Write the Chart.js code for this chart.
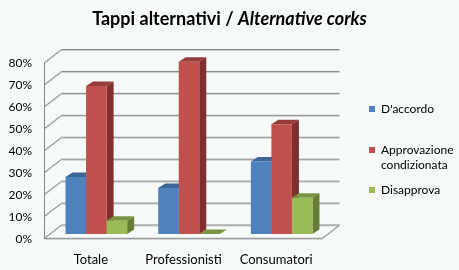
<!DOCTYPE html>
<html>
<head>
<meta charset="utf-8">
<script src="https://cdn.jsdelivr.net/npm/chart.js@4"></script>
<style>
  body { margin: 0; background: #f6faf8; }
  #wrap { width: 459px; height: 270px; }
</style>
</head>
<body>
<div id="wrap"><canvas id="myChart" width="459" height="270"></canvas></div>
<script>
// data
var categories = ['Totale', 'Professionisti', 'Consumatori'];
var seriesNames = ["D'accordo", 'Approvazione condizionata', 'Disapprova'];
var daccordo = [26, 21, 33];
var approvazione = [67.5, 78.5, 50];
var disapprova = [6, 0, 16.5];
var yTickValues = [0, 10, 20, 30, 40, 50, 60, 70, 80];

var frontColors = ['#4f81bd', '#c0504d', '#9bbb59'];
var topColors = ['#3d6596', '#963c3a', '#7a9444'];
var sideColors = ['#36598a', '#7f302e', '#667d34'];

var FONT = 'Lato';

// offsets from the bar plane to the front / back planes of the 3d box
var front = { dx: -5.8, dy: 4.3 };
var back = { dx: 11.5, dy: -9 };
var depth = { dx: 7, dy: -4.5 };

function gridLine(ctx, x1, y1, x2, y2) {
  ctx.strokeStyle = '#c9cbca';
  ctx.beginPath(); ctx.moveTo(x1, y1 + 1); ctx.lineTo(x2, y2 + 1); ctx.stroke();
  ctx.strokeStyle = '#878787';
  ctx.beginPath(); ctx.moveTo(x1, y1); ctx.lineTo(x2, y2); ctx.stroke();
}

var box3d = {
  id: 'box3d',
  beforeDatasetsDraw: function (chart) {
    var ctx = chart.ctx;
    var a = chart.chartArea;
    var ys = chart.scales.y;
    ctx.save();
    ctx.lineWidth = 1;
    var fl = a.left + front.dx, fr = a.right + front.dx;
    var bl = a.left + back.dx, br = a.right + back.dx;
    yTickValues.forEach(function (v) {
      var y = ys.getPixelForValue(v);
      gridLine(ctx, fl, y + front.dy, bl, y + back.dy);
      gridLine(ctx, bl, y + back.dy, br, y + back.dy);
    });
    var y0 = ys.getPixelForValue(0), y80 = ys.getPixelForValue(80);
    // floor front edge and right edge
    gridLine(ctx, fl, y0 + front.dy, fr, y0 + front.dy);
    gridLine(ctx, fr, y0 + front.dy, br, y0 + back.dy);
    // left wall front edge
    ctx.strokeStyle = '#878787';
    ctx.beginPath();
    ctx.moveTo(Math.round(fl) + 0.5, y0 + front.dy);
    ctx.lineTo(Math.round(fl) + 0.5, y80 + front.dy);
    ctx.stroke();

    // tops and sides of the bars, fronts are drawn by chart.js afterwards
    chart.data.datasets.forEach(function (ds, i) {
      chart.getDatasetMeta(i).data.forEach(function (bar) {
        var l = bar.x - bar.width / 2, r = bar.x + bar.width / 2;
        var t = bar.y, b = bar.base;
        ctx.fillStyle = sideColors[i];
        ctx.beginPath();
        ctx.moveTo(r, t); ctx.lineTo(r + depth.dx, t + depth.dy);
        ctx.lineTo(r + depth.dx, b + depth.dy); ctx.lineTo(r, b);
        ctx.closePath(); ctx.fill();
        ctx.fillStyle = topColors[i];
        ctx.beginPath();
        ctx.moveTo(l, t); ctx.lineTo(r, t);
        ctx.lineTo(r + depth.dx, t + depth.dy); ctx.lineTo(l + depth.dx, t + depth.dy);
        ctx.closePath(); ctx.fill();
      });
    });
    ctx.restore();
  },
  afterDraw: function (chart) {
    var ctx = chart.ctx;
    ctx.save();
    // title, upright part and italic part
    var t1 = 'Tappi alternativi / ', t2 = 'Alternative corks';
    var f1 = 'bold 18px ' + FONT, f2 = 'italic bold 18px ' + FONT;
    ctx.font = f1; var w1 = ctx.measureText(t1).width;
    ctx.font = f2; var w2 = ctx.measureText(t2).width;
    var x = 229.5 - (w1 + w2) / 2;
    ctx.fillStyle = '#000';
    ctx.textBaseline = 'middle';
    ctx.font = f1; ctx.fillText(t1, x, 19);
    ctx.font = f2; ctx.fillText(t2, x + w1, 19);

    // legend
    ctx.font = '12px ' + FONT;
    var items = [
      { lines: [seriesNames[0]], y: 109 },
      { lines: ['Approvazione', 'condizionata'], y: 150 },
      { lines: [seriesNames[2]], y: 190 }
    ];
    items.forEach(function (it, i) {
      ctx.fillStyle = frontColors[i];
      ctx.fillRect(369, it.y - 3, 6, 6);
      ctx.fillStyle = '#000';
      it.lines.forEach(function (s, k) {
        ctx.fillText(s, 381, it.y + k * 15);
      });
    });
    ctx.restore();
  }
};

var ctx = document.getElementById('myChart').getContext('2d');
var chart = new Chart(ctx, {
  type: 'bar',
  data: {
    labels: categories,
    datasets: [
      { label: seriesNames[0], data: daccordo, backgroundColor: frontColors[0] },
      { label: seriesNames[1], data: approvazione, backgroundColor: frontColors[1] },
      { label: seriesNames[2], data: disapprova, backgroundColor: frontColors[2] }
    ]
  },
  options: {
    responsive: false,
    animation: false,
    layout: { padding: { left: 0, right: 131, top: 58.5, bottom: 6 } },
    datasets: { bar: { categoryPercentage: 0.665, barPercentage: 1, borderWidth: 0 } },
    plugins: { legend: { display: false }, title: { display: false }, tooltip: { enabled: false } },
    scales: {
      x: {
        grid: { display: false, drawTicks: false },
        border: { display: false },
        ticks: { color: '#000', font: { family: FONT, size: 13 }, padding: 18, labelOffset: -5.5, maxRotation: 0 },
        afterFit: function (s) { s.height = 30; }
      },
      y: {
        min: 0,
        max: 80,
        grid: { display: false, drawTicks: false },
        border: { display: false },
        afterBuildTicks: function (s) { s.ticks = yTickValues.map(function (v) { return { value: v }; }); },
        ticks: {
          color: '#000', font: { family: FONT, size: 12 }, padding: 18, labelOffset: 5,
          callback: function (v) { return v + '%'; }
        },
        afterFit: function (s) { s.width = 50; }
      }
    }
  },
  plugins: [box3d]
});
</script>
</body>
</html>
